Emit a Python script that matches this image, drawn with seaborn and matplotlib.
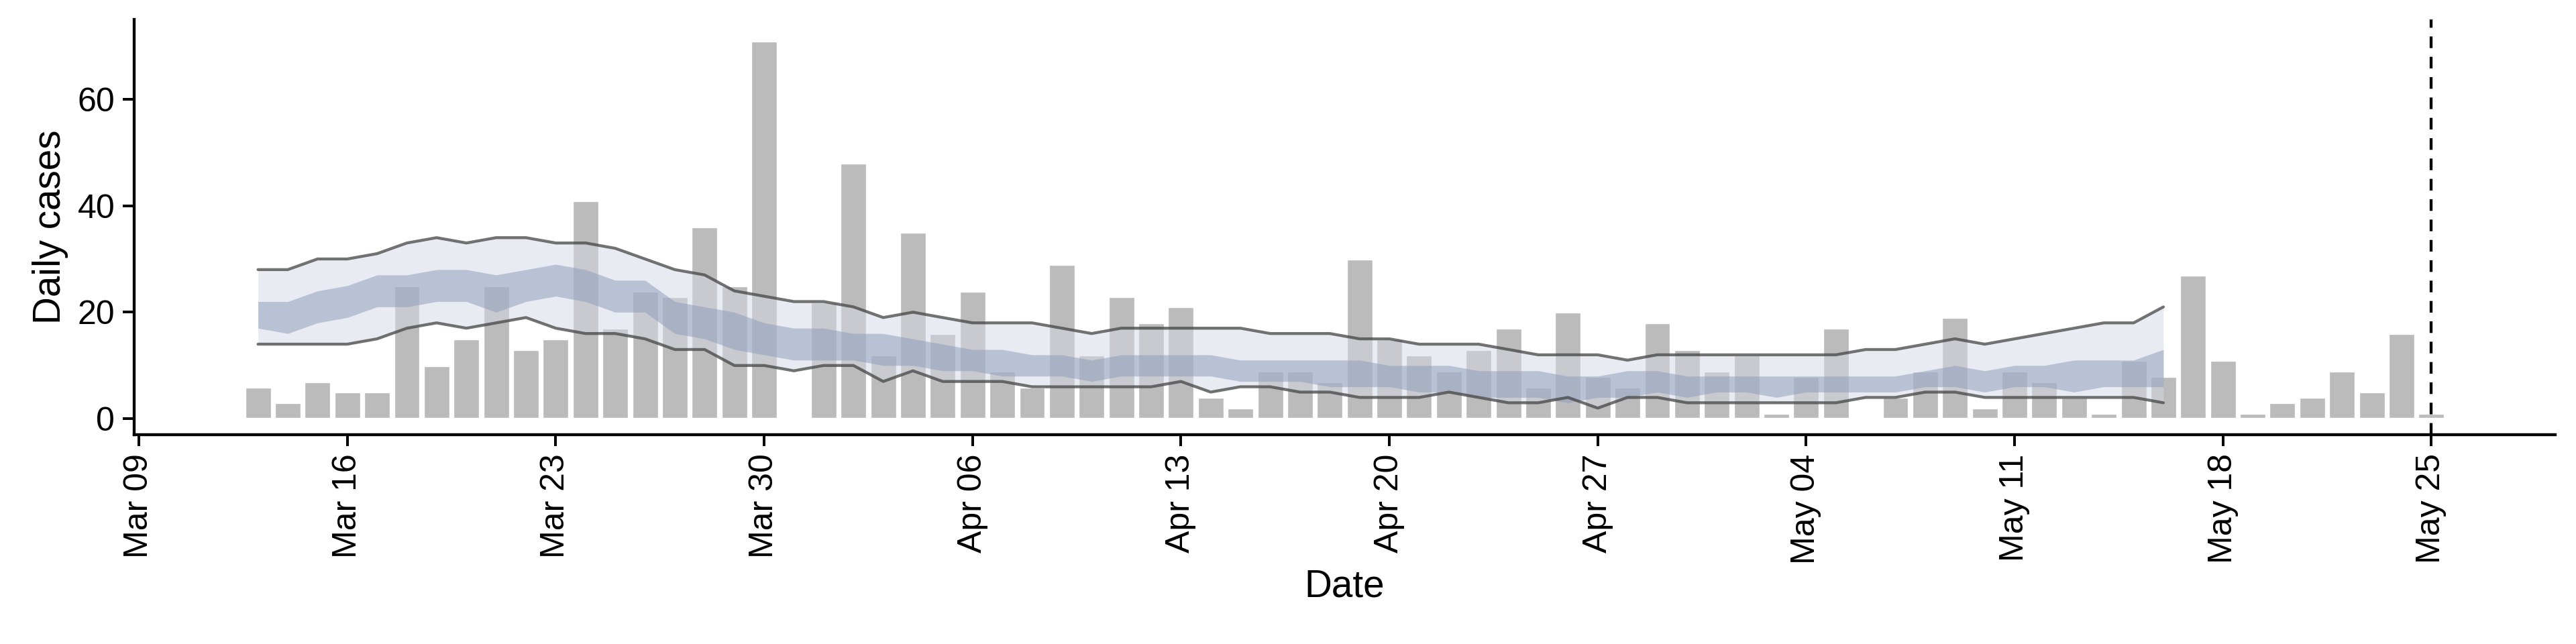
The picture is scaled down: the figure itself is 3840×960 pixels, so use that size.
import numpy as np
import pandas as pd
import matplotlib
matplotlib.use("Agg")
import matplotlib.pyplot as plt
import matplotlib.dates as mdates
import seaborn as sns

# daily cases from Mar 13 to May 25
bar_start = "2020-03-13"
daily_cases = [6, 3, 7, 5, 5, 25, 10, 15, 25, 13, 15, 41, 17, 24, 23, 36, 25, 71, 0,
               22, 48, 12, 35, 16, 24, 9, 6, 29, 12, 23, 18, 21, 4, 2, 9, 9, 7, 30, 15,
               12, 9, 13, 17, 6, 20, 8, 6, 18, 13,
               9, 12, 1, 8, 17, 0, 4, 9, 19, 2, 9, 7, 4, 1, 11, 8, 27, 11, 1, 3, 4, 9, 5, 16, 1]

# model bands, Mar 13 to May 16
band_start = "2020-03-13"
outer_hi = [28, 28, 30, 30, 31, 33, 34, 33, 34, 34, 33, 33, 32, 30, 28, 27, 24, 23, 22,
            22, 21, 19, 20, 19, 18, 18, 18, 17, 16, 17, 17, 17, 17, 17, 16, 16, 16, 15, 15,
            14, 14, 14, 13, 12, 12, 12, 11, 12, 12,
            12, 12, 12, 12, 12, 13, 13, 14, 15, 14, 15, 16, 17, 18, 18, 21]
outer_lo = [14, 14, 14, 14, 15, 17, 18, 17, 18, 19, 17, 16, 16, 15, 13, 13, 10, 10, 9,
            10, 10, 7, 9, 7, 7, 7, 6, 6, 6, 6, 6, 7, 5, 6, 6, 5, 5, 4, 4,
            4, 5, 4, 3, 3, 4, 2, 4, 4, 3,
            3, 3, 3, 3, 3, 4, 4, 5, 5, 4, 4, 4, 4, 4, 4, 3]
inner_hi = [22, 22, 24, 25, 27, 27, 28, 28, 27, 28, 29, 28, 26, 26, 22, 21, 20, 18, 17,
            17, 16, 16, 15, 14, 13, 13, 12, 12, 11, 12, 12, 12, 12, 11, 11, 11, 11, 11, 10,
            10, 10, 9, 9, 9, 8, 8, 9, 9, 8,
            8, 8, 8, 8, 8, 8, 8, 9, 10, 9, 10, 10, 11, 11, 11, 13]
inner_lo = [17, 16, 18, 19, 21, 21, 22, 22, 20, 22, 23, 22, 20, 20, 16, 15, 13, 12, 11,
            11, 11, 10, 10, 9, 9, 8, 8, 8, 7, 8, 8, 8, 8, 7, 7, 7, 6, 6, 6,
            5, 5, 4, 4, 4, 3, 4, 4, 5, 4,
            5, 5, 4, 5, 5, 5, 5, 6, 6, 5, 6, 6, 5, 6, 6, 6]

cutoff = "2020-05-25"

bars = pd.DataFrame({"date": pd.date_range(bar_start, periods=len(daily_cases)),
                     "cases": daily_cases})
band = pd.DataFrame({"date": pd.date_range(band_start, periods=len(outer_hi)),
                     "outer_hi": outer_hi, "outer_lo": outer_lo,
                     "inner_hi": inner_hi, "inner_lo": inner_lo})

sns.set_style("ticks")
plt.rcParams["font.family"] = ["Liberation Sans", "DejaVu Sans"]
plt.rcParams["text.color"] = "black"
plt.rcParams["axes.labelcolor"] = "black"
plt.rcParams["xtick.color"] = "black"
plt.rcParams["ytick.color"] = "black"

fig, ax = plt.subplots(figsize=(16, 4), dpi=240)
fig.subplots_adjust(left=0.052, right=0.992, top=0.97, bottom=0.325)

ax.bar(bars["date"], bars["cases"], width=0.9, color="#bbbbbb", zorder=1)

ax.fill_between(band["date"], band["outer_lo"], band["outer_hi"],
                color="#d5d9e6", alpha=0.5, lw=0, zorder=2)
ax.fill_between(band["date"], band["inner_lo"], band["inner_hi"],
                color="#8b9aba", alpha=0.5, lw=0, zorder=3)
sns.lineplot(data=band, x="date", y="outer_hi", color="#444444", alpha=0.75, lw=1.3, ax=ax, zorder=4)
sns.lineplot(data=band, x="date", y="outer_lo", color="#444444", alpha=0.75, lw=1.3, ax=ax, zorder=4)

ax.axvline(pd.Timestamp(cutoff), color="black", ls=(0, (4, 3)), lw=1.3, zorder=5)

ax.set_xlim(pd.Timestamp("2020-03-08 20:00"), pd.Timestamp("2020-05-29 04:00"))
ax.set_ylim(-3, 75)
ax.set_yticks([0, 20, 40, 60])
ax.set_xticks(pd.date_range("2020-03-09", "2020-05-25", freq="7D"))
ax.xaxis.set_major_formatter(mdates.DateFormatter("%b %d"))
plt.setp(ax.get_xticklabels(), rotation=90)
ax.tick_params(labelsize=15, width=1.2, length=5)
ax.set_xlabel("Date", fontsize=17, labelpad=2)
ax.set_ylabel("Daily cases", fontsize=17, labelpad=4)
for s in ["left", "bottom"]:
    ax.spines[s].set_linewidth(1.3)
    ax.spines[s].set_color("black")
sns.despine(ax=ax)

fig.savefig("out.png", dpi=240)
